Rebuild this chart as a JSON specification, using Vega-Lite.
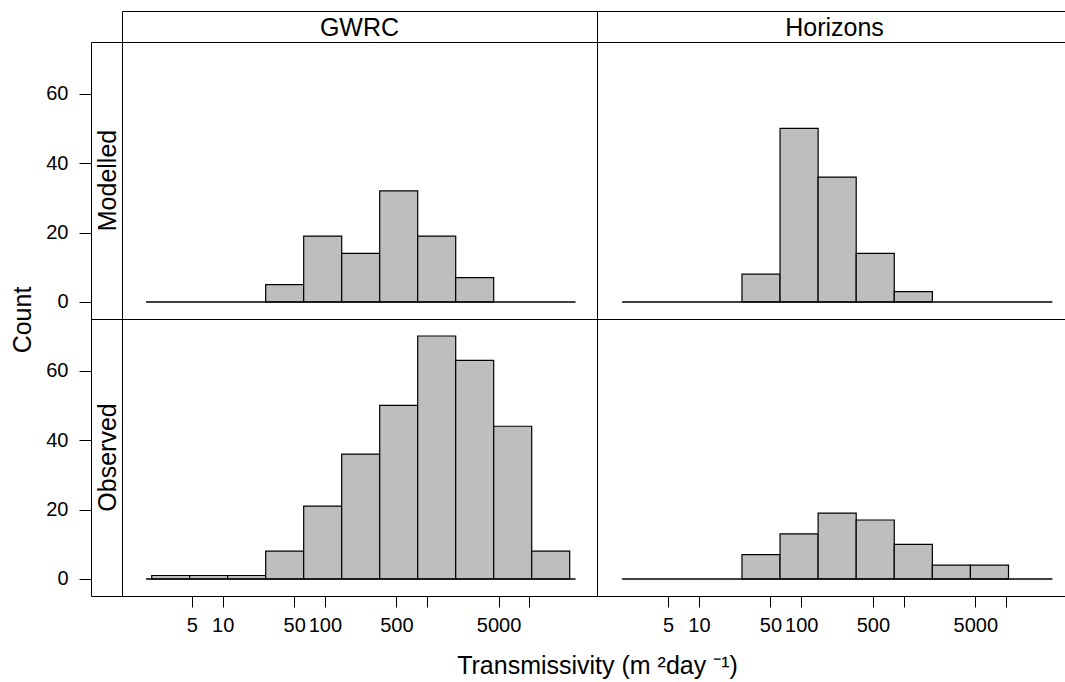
{
  "$schema": "https://vega.github.io/schema/vega-lite/v6.json",
  "padding": {"left": 10, "top": 10, "right": 0, "bottom": 0},
  "autosize": {"type": "pad"},
  "datasets": {
    "bins": [
      {"src": "GWRC", "type": "Modelled", "lo": 26.34, "hi": 62.01, "count": 5},
      {"src": "GWRC", "type": "Modelled", "lo": 62.01, "hi": 146.0, "count": 19},
      {"src": "GWRC", "type": "Modelled", "lo": 146.0, "hi": 343.8, "count": 14},
      {"src": "GWRC", "type": "Modelled", "lo": 343.8, "hi": 809.2, "count": 32},
      {"src": "GWRC", "type": "Modelled", "lo": 809.2, "hi": 1905, "count": 19},
      {"src": "GWRC", "type": "Modelled", "lo": 1905, "hi": 4484, "count": 7},
      {"src": "GWRC", "type": "Observed", "lo": 2.02, "hi": 4.753, "count": 1},
      {"src": "GWRC", "type": "Observed", "lo": 4.753, "hi": 11.19, "count": 1},
      {"src": "GWRC", "type": "Observed", "lo": 11.19, "hi": 26.34, "count": 1},
      {"src": "GWRC", "type": "Observed", "lo": 26.34, "hi": 62.01, "count": 8},
      {"src": "GWRC", "type": "Observed", "lo": 62.01, "hi": 146.0, "count": 21},
      {"src": "GWRC", "type": "Observed", "lo": 146.0, "hi": 343.8, "count": 36},
      {"src": "GWRC", "type": "Observed", "lo": 343.8, "hi": 809.2, "count": 50},
      {"src": "GWRC", "type": "Observed", "lo": 809.2, "hi": 1905, "count": 70},
      {"src": "GWRC", "type": "Observed", "lo": 1905, "hi": 4484, "count": 63},
      {"src": "GWRC", "type": "Observed", "lo": 4484, "hi": 10556, "count": 44},
      {"src": "GWRC", "type": "Observed", "lo": 10556, "hi": 24856, "count": 8},
      {"src": "Horizons", "type": "Modelled", "lo": 26.34, "hi": 62.01, "count": 8},
      {"src": "Horizons", "type": "Modelled", "lo": 62.01, "hi": 146.0, "count": 50},
      {"src": "Horizons", "type": "Modelled", "lo": 146.0, "hi": 343.8, "count": 36},
      {"src": "Horizons", "type": "Modelled", "lo": 343.8, "hi": 809.2, "count": 14},
      {"src": "Horizons", "type": "Modelled", "lo": 809.2, "hi": 1905, "count": 3},
      {"src": "Horizons", "type": "Observed", "lo": 26.34, "hi": 62.01, "count": 7},
      {"src": "Horizons", "type": "Observed", "lo": 62.01, "hi": 146.0, "count": 13},
      {"src": "Horizons", "type": "Observed", "lo": 146.0, "hi": 343.8, "count": 19},
      {"src": "Horizons", "type": "Observed", "lo": 343.8, "hi": 809.2, "count": 17},
      {"src": "Horizons", "type": "Observed", "lo": 809.2, "hi": 1905, "count": 10},
      {"src": "Horizons", "type": "Observed", "lo": 1905, "hi": 4484, "count": 4},
      {"src": "Horizons", "type": "Observed", "lo": 4484, "hi": 10556, "count": 4}
    ],
    "base": [{"lo": 1.78, "hi": 28300}]
  },
  "columns": 3,
  "spacing": 0,
  "bounds": "flush",
  "align": "each",
  "concat": [
    {
      "width": 31, "height": 31,
      "view": {"stroke": null},
      "data": {"values": [{"t": ""}]},
      "mark": {"type": "text"},
      "encoding": {"text": {"field": "t"}}
    },
    {
      "width": 475, "height": 31,
      "data": {"values": [{"label": "GWRC"}]},
      "mark": {"type": "text", "fontSize": 25, "baseline": "middle", "align": "center", "dy": 1},
      "encoding": {
        "text": {"field": "label"},
        "x": {"datum": 0.5, "type": "quantitative", "scale": {"domain": [0, 1]}, "axis": null},
        "y": {"datum": 0.5, "type": "quantitative", "scale": {"domain": [0, 1]}, "axis": null}
      }
    },
    {
      "width": 475, "height": 31,
      "data": {"values": [{"label": "Horizons"}]},
      "mark": {"type": "text", "fontSize": 25, "baseline": "middle", "align": "center", "dy": 1},
      "encoding": {
        "text": {"field": "label"},
        "x": {"datum": 0.5, "type": "quantitative", "scale": {"domain": [0, 1]}, "axis": null},
        "y": {"datum": 0.5, "type": "quantitative", "scale": {"domain": [0, 1]}, "axis": null}
      }
    },
    {
      "width": 31, "height": 277,
      "data": {"values": [{"label": "Modelled"}]},
      "mark": {"type": "text", "fontSize": 25, "angle": 270, "baseline": "middle", "align": "center", "dy": 1},
      "encoding": {
        "text": {"field": "label"},
        "x": {"datum": 0.5, "type": "quantitative", "scale": {"domain": [0, 1]}, "axis": null},
        "y": {"datum": 35, "type": "quantitative",
          "scale": {"domain": [-4.9, 74.9], "nice": false, "zero": false},
          "axis": {"values": [0, 20, 40, 60], "tickSize": 12, "labelPadding": 11,
            "title": "Count", "titleX": -60.5, "titleY": 277.5, "titleAngle": 270,
            "titleAlign": "center", "titleBaseline": "alphabetic", "titleFontSize": 25}}
      }
    },
    {
      "width": 475, "height": 277,
      "layer": [
        {
          "data": {"name": "bins"},
          "transform": [{"filter": "datum.src == 'GWRC' && datum.type == 'Modelled'"}],
          "mark": {"type": "rect", "fill": "#BEBEBE", "stroke": "black", "strokeWidth": 1.2},
          "encoding": {
            "x": {"field": "lo", "type": "quantitative", "scale": {"type": "log", "domain": [1.0344, 45960], "nice": false}, "axis": null},
            "x2": {"field": "hi"},
            "y": {"field": "count", "type": "quantitative", "scale": {"domain": [-4.9, 74.9], "nice": false, "zero": false}, "axis": null},
            "y2": {"datum": 0}
          }
        },
        {
          "data": {"name": "base"},
          "mark": {"type": "rule", "color": "black", "strokeWidth": 1.6},
          "encoding": {
            "x": {"field": "lo", "type": "quantitative", "axis": null},
            "x2": {"field": "hi"},
            "y": {"datum": 0, "type": "quantitative", "axis": null}
          }
        }
      ]
    },
    {
      "width": 475, "height": 277,
      "layer": [
        {
          "data": {"name": "bins"},
          "transform": [{"filter": "datum.src == 'Horizons' && datum.type == 'Modelled'"}],
          "mark": {"type": "rect", "fill": "#BEBEBE", "stroke": "black", "strokeWidth": 1.2},
          "encoding": {
            "x": {"field": "lo", "type": "quantitative", "scale": {"type": "log", "domain": [1.0114, 44020], "nice": false}, "axis": null},
            "x2": {"field": "hi"},
            "y": {"field": "count", "type": "quantitative", "scale": {"domain": [-4.9, 74.9], "nice": false, "zero": false}, "axis": null},
            "y2": {"datum": 0}
          }
        },
        {
          "data": {"name": "base"},
          "mark": {"type": "rule", "color": "black", "strokeWidth": 1.6},
          "encoding": {
            "x": {"field": "lo", "type": "quantitative", "axis": null},
            "x2": {"field": "hi"},
            "y": {"datum": 0, "type": "quantitative", "axis": null}
          }
        }
      ]
    },
    {
      "width": 31, "height": 277,
      "data": {"values": [{"label": "Observed"}]},
      "mark": {"type": "text", "fontSize": 25, "angle": 270, "baseline": "middle", "align": "center", "dy": 1},
      "encoding": {
        "text": {"field": "label"},
        "x": {"datum": 0.5, "type": "quantitative", "scale": {"domain": [0, 1]}, "axis": null},
        "y": {"datum": 35, "type": "quantitative",
          "scale": {"domain": [-4.9, 74.9], "nice": false, "zero": false},
          "axis": {"values": [0, 20, 40, 60], "tickSize": 12, "labelPadding": 11, "title": null}}
      }
    },
    {
      "width": 475, "height": 277,
      "layer": [
        {
          "data": {"name": "bins"},
          "transform": [{"filter": "datum.src == 'GWRC' && datum.type == 'Observed'"}],
          "mark": {"type": "rect", "fill": "#BEBEBE", "stroke": "black", "strokeWidth": 1.2},
          "encoding": {
            "x": {"field": "lo", "type": "quantitative", "scale": {"type": "log", "domain": [1.0344, 45960], "nice": false},
              "axis": {"values": [5, 10, 50, 100, 500, 1000, 5000, 10000], "format": "d",
                "labelExpr": "(datum.value == 1000 || datum.value == 10000) ? '' : datum.label",
                "labelOverlap": false, "labelFlush": false, "tickSize": 11, "labelPadding": 8,
                "title": "Transmissivity (m ²day ⁻¹)", "titleX": 475, "titleY": 77,
                "titleAlign": "center", "titleBaseline": "alphabetic", "titleFontSize": 25}},
            "x2": {"field": "hi"},
            "y": {"field": "count", "type": "quantitative", "scale": {"domain": [-4.9, 74.9], "nice": false, "zero": false}, "axis": null},
            "y2": {"datum": 0}
          }
        },
        {
          "data": {"name": "base"},
          "mark": {"type": "rule", "color": "black", "strokeWidth": 1.6},
          "encoding": {
            "x": {"field": "lo", "type": "quantitative"},
            "x2": {"field": "hi"},
            "y": {"datum": 0, "type": "quantitative", "axis": null}
          }
        }
      ]
    },
    {
      "width": 475, "height": 277,
      "layer": [
        {
          "data": {"name": "bins"},
          "transform": [{"filter": "datum.src == 'Horizons' && datum.type == 'Observed'"}],
          "mark": {"type": "rect", "fill": "#BEBEBE", "stroke": "black", "strokeWidth": 1.2},
          "encoding": {
            "x": {"field": "lo", "type": "quantitative", "scale": {"type": "log", "domain": [1.0114, 44020], "nice": false},
              "axis": {"values": [5, 10, 50, 100, 500, 1000, 5000, 10000], "format": "d",
                "labelExpr": "(datum.value == 1000 || datum.value == 10000) ? '' : datum.label",
                "labelOverlap": false, "labelFlush": false, "tickSize": 11, "labelPadding": 8, "title": null}},
            "x2": {"field": "hi"},
            "y": {"field": "count", "type": "quantitative", "scale": {"domain": [-4.9, 74.9], "nice": false, "zero": false}, "axis": null},
            "y2": {"datum": 0}
          }
        },
        {
          "data": {"name": "base"},
          "mark": {"type": "rule", "color": "black", "strokeWidth": 1.6},
          "encoding": {
            "x": {"field": "lo", "type": "quantitative"},
            "x2": {"field": "hi"},
            "y": {"datum": 0, "type": "quantitative", "axis": null}
          }
        }
      ]
    }
  ],
  "config": {
    "view": {"stroke": "black", "strokeWidth": 1},
    "font": "Liberation Sans",
    "text": {"color": "black", "font": "Liberation Sans"},
    "axis": {
      "domain": false, "grid": false, "ticks": true,
      "tickColor": "black", "tickWidth": 1,
      "labelColor": "black", "labelFontSize": 20, "labelFont": "Liberation Sans",
      "titleColor": "black", "titleFontWeight": "normal", "titleFontSize": 25, "titleFont": "Liberation Sans"
    }
  }
}
